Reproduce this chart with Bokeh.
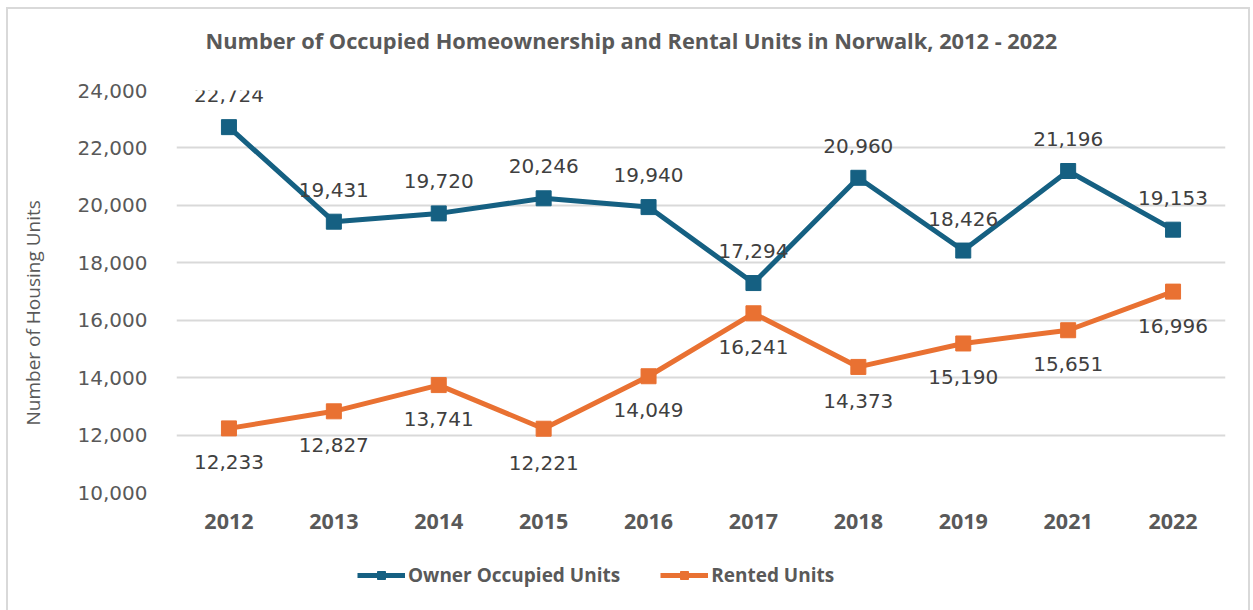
from bokeh.plotting import figure
from bokeh.layouts import column
from bokeh.models import (ColumnDataSource, Range1d, FactorRange, LabelSet, Legend,
                          LegendItem, NumeralTickFormatter, FixedTicker, Title)
from bokeh.core.properties import value
from bokeh.embed import file_html
from bokeh.resources import INLINE

years = ["2012", "2013", "2014", "2015", "2016", "2017", "2018", "2019", "2021", "2022"]
owner = [22724, 19431, 19720, 20246, 19940, 17294, 20960, 18426, 21196, 19153]
rented = [12233, 12827, 13741, 12221, 14049, 16241, 14373, 15190, 15651, 16996]
y_ticks = [10000, 12000, 14000, 16000, 18000, 20000, 22000, 24000]
series_names = ["Owner Occupied Units", "Rented Units"]

title_text = "Number of Occupied Homeownership and Rental Units in Norwalk, 2012 - 2022"
y_label = "Number of Housing Units"
BLUE = "#156082"
ORANGE = "#E97132"
GRAY = "#595959"
FONT = "Open Sans"
NUMFONT = "DejaVu Sans"

src = ColumnDataSource(dict(
    year=years, owner=owner, rented=rented,
    owner_lbl=[f"{v:,}" for v in owner],
    rented_lbl=[f"{v:,}" for v in rented],
))

p = figure(width=1240, height=545, x_range=FactorRange(*years), y_range=Range1d(10000, 24000),
           output_backend="svg", toolbar_location=None,
           min_border_left=168, min_border_right=23, min_border_top=81, min_border_bottom=62)
p.outline_line_color = None

# thin spacer panel between frame and chart title
p.add_layout(Title(text=" ", standoff=28, text_font_size="1px"), "above")
t = Title(text=title_text, align="left", offset=29, standoff=10,
          text_font=FONT, text_font_size="21.8px", text_font_style="bold", text_color=GRAY)
p.add_layout(t, "above")

p.yaxis.ticker = FixedTicker(ticks=y_ticks)
p.yaxis.formatter = NumeralTickFormatter(format="0,0")
for ax in (p.xaxis, p.yaxis):
    ax.axis_line_color = None
    ax.major_tick_line_color = None
    ax.minor_tick_line_color = None
    ax.major_tick_out = 0
    ax.major_tick_in = 0
    ax.major_label_text_color = GRAY
p.yaxis.major_label_text_font = NUMFONT
p.yaxis.major_label_text_font_size = "20px"
p.yaxis.major_label_standoff = 29
p.xaxis.major_label_text_font = FONT
p.xaxis.major_label_text_font_size = "21.5px"
p.xaxis.major_label_text_font_style = "bold"
p.xaxis.major_label_standoff = 21

# y axis title as a side title (sits slightly below centre, as in the original)
p.add_layout(Title(text=" ", standoff=24, text_font_size="1px"), "left")
yt = Title(text=y_label, align="left", offset=67, standoff=4,
           text_font=FONT, text_font_size="19px", text_font_style="normal", text_color=GRAY)
p.add_layout(yt, "left")

p.xgrid.grid_line_color = None
p.ygrid.grid_line_color = "#d9d9d9"
p.ygrid.grid_line_width = 2

p.line("year", "owner", source=src, line_color=BLUE, line_width=5)
p.scatter("year", "owner", source=src, marker="square", size=15, fill_color=BLUE, line_color=BLUE)
p.line("year", "rented", source=src, line_color=ORANGE, line_width=5)
p.scatter("year", "rented", source=src, marker="square", size=15, fill_color=ORANGE, line_color=ORANGE)

lab1 = LabelSet(x="year", y="owner", text="owner_lbl", source=src, y_offset=32,
                text_align="center", text_baseline="middle", text_font=value(NUMFONT),
                text_font_size="20px", text_color="#404040")
lab2 = LabelSet(x="year", y="rented", text="rented_lbl", source=src, y_offset=-34,
                text_align="center", text_baseline="middle", text_font=value(NUMFONT),
                text_font_size="20px", text_color="#404040")
p.add_layout(lab1)
p.add_layout(lab2)

# legend strip: same series drawn out of view, only their legend entries show
lf = figure(width=1240, height=57, x_range=FactorRange(*years), y_range=Range1d(0, 1),
            output_backend="svg", toolbar_location=None,
            min_border_left=0, min_border_right=0, min_border_top=0, min_border_bottom=0)
lf.axis.visible = False
lf.grid.visible = False
lf.outline_line_color = None
dl1 = lf.line("year", "owner", source=src, line_color=BLUE, line_width=5)
ds1 = lf.scatter("year", "owner", source=src, marker="square", size=15, fill_color=BLUE, line_color=BLUE)
dl2 = lf.line("year", "rented", source=src, line_color=ORANGE, line_width=5)
ds2 = lf.scatter("year", "rented", source=src, marker="square", size=15, fill_color=ORANGE, line_color=ORANGE)
legend = Legend(items=[LegendItem(label=series_names[0], renderers=[dl1, ds1]),
                       LegendItem(label=series_names[1], renderers=[dl2, ds2])],
                orientation="horizontal", location=(181, 23), padding=5,
                label_text_font=FONT, label_text_font_size="19px", label_text_font_style="bold",
                label_text_color=GRAY, glyph_width=48, glyph_height=20, label_standoff=3, spacing=40,
                border_line_color=None, background_fill_alpha=0)
lf.add_layout(legend)

layout = column(p, lf, styles={"border": "2px solid #d9d9d9", "margin-left": "6px",
                               "margin-top": "7px"})

open("out.html", "w").write(file_html(layout, INLINE))
